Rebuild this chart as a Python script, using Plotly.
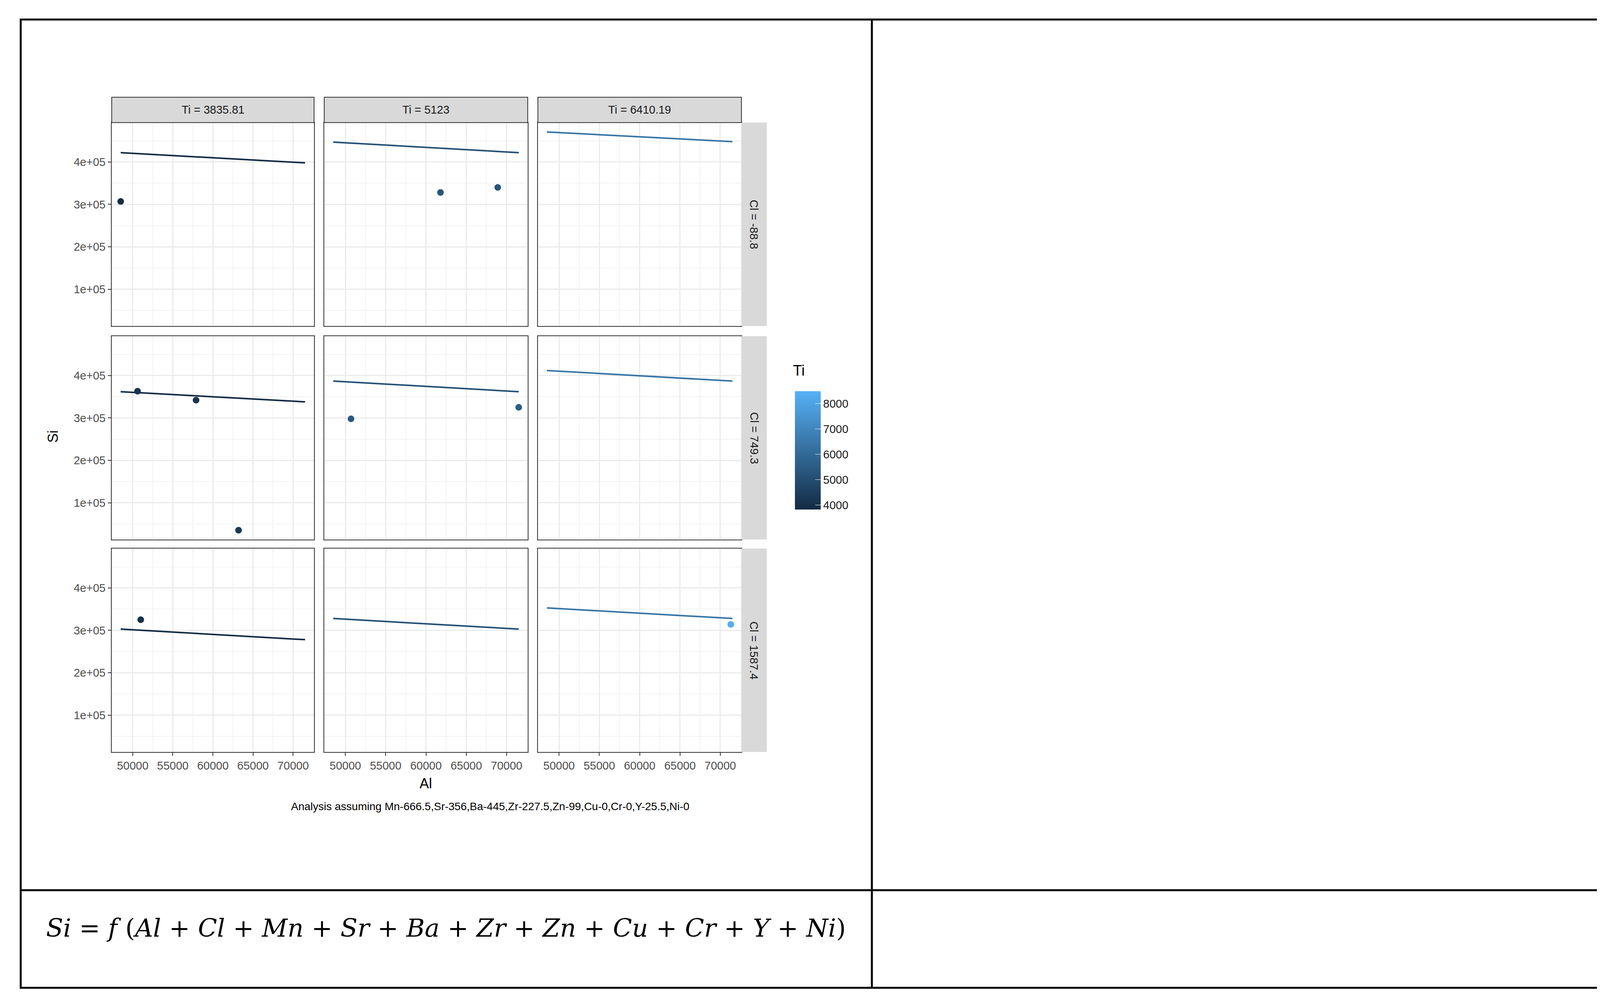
import plotly.graph_objects as go

W, H = 4443, 2551

# facet levels
ti_levels = [3835.81, 5123, 6410.19]
cl_levels = [-88.8, 749.3, 1587.4]

# observed points per panel (row, col): Al, Si, Ti
pt_row = [0, 0, 0, 1, 1, 1, 1, 1, 2, 2]
pt_col = [0, 1, 1, 0, 0, 0, 1, 1, 0, 2]
pt_al = [48500, 61800, 68900, 50600, 57900, 63200, 50700, 71500, 51000, 71300]
pt_si = [307000, 328000, 340000, 363000, 342000, 35000, 298000, 325000, 325000, 314000]
pt_ti = [3900, 5300, 5300, 4100, 4200, 4300, 5400, 5600, 4000, 8400]

# fitted line end values per panel, rows = Cl, cols = Ti
fit_al = [48500, 71500]
fit_si_start = [[422000, 447000, 471000], [362000, 387000, 412000], [303000, 328000, 353000]]
fit_si_end = [[398000, 422000, 448000], [338000, 362000, 387000], [278000, 303000, 328000]]

x_ticks = [50000, 55000, 60000, 65000, 70000]
y_ticks = [100000, 200000, 300000, 400000]
y_ticktext = ["1e+05", "2e+05", "3e+05", "4e+05"]
bar_ticks = [4000, 5000, 6000, 7000, 8000]

caption = "Analysis assuming Mn-666.5,Sr-356,Ba-445,Zr-227.5,Zn-99,Cu-0,Cr-0,Y-25.5,Ni-0"

lo_col, hi_col = (0x13, 0x2B, 0x43), (0x56, 0xB1, 0xF7)
ti_min, ti_max = 3835.81, 8500


def ti_color(t):
    f = (t - ti_min) / (ti_max - ti_min)
    c = [round(a + (b - a) * f) for a, b in zip(lo_col, hi_col)]
    return f"rgb({c[0]},{c[1]},{c[2]})"


col_px = [(278, 796), (822, 1343), (1369, 1890)]
row_px = [(306, 827), (853, 1374), (1397, 1918)]

fig = go.Figure()
shapes = []
annotations = []
font = "Liberation Sans"

for r in range(3):
    for c in range(3):
        n = r * 3 + c + 1
        xa = "xaxis" if n == 1 else f"xaxis{n}"
        ya = "yaxis" if n == 1 else f"yaxis{n}"
        xr = "x" if n == 1 else f"x{n}"
        yr = "y" if n == 1 else f"y{n}"
        x0, x1 = col_px[c]
        y0, y1 = row_px[r]
        fig.update_layout(**{
            xa: dict(domain=[x0 / W, x1 / W], range=[47380, 72620], anchor=yr,
                     tickvals=x_ticks, ticktext=[str(v) for v in x_ticks],
                     showticklabels=(r == 2), ticks="outside" if r == 2 else "",
                     ticklen=8, tickwidth=2, tickcolor="#333",
                     gridcolor="#EBEBEB", gridwidth=3, zeroline=False,
                     minor=dict(dtick=2500, showgrid=True, gridcolor="#F3F3F3", gridwidth=2),
                     showline=True, mirror=True, linecolor="#333", linewidth=2,
                     tickfont=dict(size=29, color="#4D4D4D", family=font)),
            ya: dict(domain=[1 - y1 / H, 1 - y0 / H], range=[13000, 493000], anchor=xr,
                     tickvals=y_ticks, ticktext=y_ticktext,
                     showticklabels=(c == 0), ticks="outside" if c == 0 else "",
                     ticklen=8, tickwidth=2, tickcolor="#333",
                     gridcolor="#EBEBEB", gridwidth=3, zeroline=False,
                     minor=dict(dtick=50000, showgrid=True, gridcolor="#F3F3F3", gridwidth=2),
                     showline=True, mirror=True, linecolor="#333", linewidth=2,
                     tickfont=dict(size=29, color="#4D4D4D", family=font)),
        })
        fig.add_trace(go.Scatter(x=fit_al, y=[fit_si_start[r][c], fit_si_end[r][c]],
                                 mode="lines", line=dict(color=ti_color(ti_levels[c]), width=4),
                                 xaxis=xr, yaxis=yr, showlegend=False))
        idx = [i for i in range(len(pt_al)) if pt_row[i] == r and pt_col[i] == c]
        if idx:
            fig.add_trace(go.Scatter(x=[pt_al[i] for i in idx], y=[pt_si[i] for i in idx],
                                     mode="markers",
                                     marker=dict(size=17, color=[pt_ti[i] for i in idx],
                                                 coloraxis="coloraxis"),
                                     xaxis=xr, yaxis=yr, showlegend=False))

# strips
for c in range(3):
    x0, x1 = col_px[c]
    shapes.append(dict(type="rect", xref="paper", yref="paper", x0=x0 / W, x1=x1 / W,
                       y0=1 - 306 / H, y1=1 - 241 / H, fillcolor="#D9D9D9",
                       line=dict(color="#333", width=2)))
    annotations.append(dict(text=f"Ti = {ti_levels[c]:g}", x=(x0 + x1) / 2 / W, y=1 - 273 / H,
                            font=dict(size=29, color="#1A1A1A", family=font)))
for r in range(3):
    y0, y1 = row_px[r]
    shapes.append(dict(type="rect", xref="paper", yref="paper", x0=1890 / W, x1=1955 / W,
                       y0=1 - y1 / H, y1=1 - y0 / H, fillcolor="#D9D9D9",
                       line=dict(color="#D9D9D9", width=0)))
    annotations.append(dict(text=f"Cl = {cl_levels[r]:g}", x=1922 / W, y=1 - (y0 + y1) / 2 / H,
                            textangle=90, font=dict(size=29, color="#1A1A1A", family=font)))

# table borders
shapes.append(dict(type="rect", xref="paper", yref="paper", x0=45 / W, x1=4400 / W,
                   y0=1 - 2522 / H, y1=1 - 42 / H, line=dict(color="black", width=5)))
shapes.append(dict(type="line", xref="paper", yref="paper", x0=2224 / W, x1=2224 / W,
                   y0=1 - 2522 / H, y1=1 - 42 / H, line=dict(color="black", width=5)))
shapes.append(dict(type="line", xref="paper", yref="paper", x0=45 / W, x1=4400 / W,
                   y0=1 - 2272 / H, y1=1 - 2272 / H, line=dict(color="black", width=5)))

annotations += [
    dict(text="Si", x=127 / W, y=1 - 1110 / H, textangle=-90, font=dict(size=36, family=font)),
    dict(text="Al", x=1082 / W, y=1 - 1998 / H, font=dict(size=36, family=font)),
    dict(text=caption, x=1247 / W, y=1 - 2057 / H, font=dict(size=28, family=font)),
    dict(text="Ti", x=2020 / W, y=1 - 941 / H, xanchor="left", font=dict(size=38, family=font)),
    dict(text="<i>Si</i> = <i>f</i> (<i>Al</i> + <i>Cl</i> + <i>Mn</i> + <i>Sr</i> + <i>Ba</i> + "
              "<i>Zr</i> + <i>Zn</i> + <i>Cu</i> + <i>Cr</i> + <i>Y</i> + <i>Ni</i>)",
         x=108 / W, y=1 - 2369 / H, xanchor="left",
         font=dict(size=64, family="DejaVu Serif", color="black")),
]
for a in annotations:
    a.setdefault("xref", "paper")
    a.setdefault("yref", "paper")
    a.setdefault("showarrow", False)
    a.setdefault("xanchor", "center")
    a.setdefault("yanchor", "middle")
    a["font"].setdefault("color", "black")

fig.update_layout(
    width=W, height=H, margin=dict(l=0, r=0, t=0, b=0),
    paper_bgcolor="white", plot_bgcolor="white",
    shapes=shapes, annotations=annotations,
    coloraxis=dict(cmin=ti_min, cmax=ti_max,
                   colorscale=[[0, "#132B43"], [1, "#56B1F7"]],
                   colorbar=dict(x=2017 / W, xanchor="left", y=1 - 1145 / H, yanchor="middle",
                                 len=323 / H, lenmode="fraction", thickness=66,
                                 outlinewidth=0, ticks="inside", tickcolor="white", ticklen=14,
                                 tickvals=bar_ticks,
                                 tickfont=dict(size=29, color="#1A1A1A", family=font))),
)

fig.write_html("out.html")
